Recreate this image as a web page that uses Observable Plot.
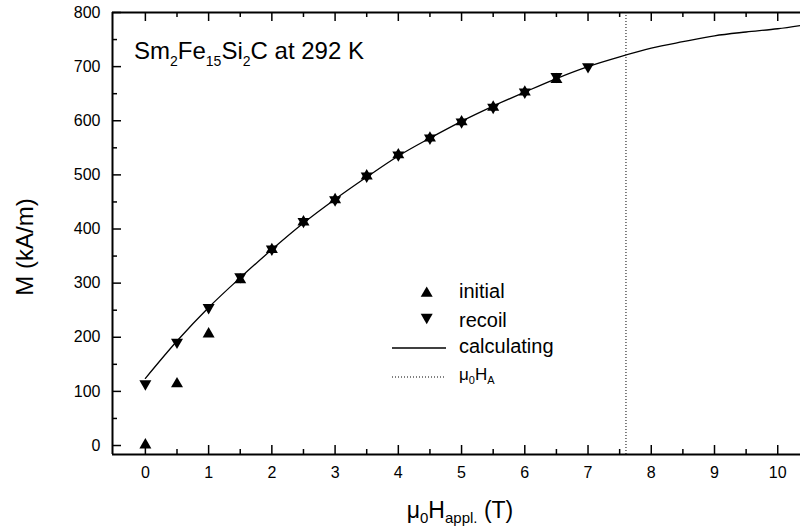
<!DOCTYPE html>
<html><head><meta charset="utf-8">
<script src="https://cdn.jsdelivr.net/npm/d3@7"></script>
<script src="https://cdn.jsdelivr.net/npm/@observablehq/plot@0.6"></script>
<style>body{margin:0;background:#fff}#chart{width:800px;height:532px}</style>
</head><body><div id="chart"></div>
<script>
// ---- data ----
const fieldInitial = [0, 0.5, 1, 1.5, 2, 2.5, 3, 3.5, 4, 4.5, 5, 5.5, 6, 6.5];
const mInitial     = [1, 114, 206, 306, 362, 413, 454, 498, 537, 568, 598, 625, 653, 676];
const fieldRecoil  = [0, 0.5, 1, 1.5, 2, 2.5, 3, 3.5, 4, 4.5, 5, 5.5, 6, 6.5, 7];
const mRecoil      = [114, 191, 255, 312, 363, 414, 454, 498, 537, 568, 598, 625, 653, 682, 700];
const fieldCalc    = [0, 0.5, 1, 1.5, 2, 2.5, 3, 3.5, 4, 4.5, 5, 5.5, 6, 6.5, 7, 7.5, 8, 8.5, 9, 9.5, 10, 10.36];
const mCalc        = [124, 193, 255, 310, 362, 411, 455, 496, 535, 568, 599, 627, 653, 678, 700, 718, 734, 746, 757, 764, 770, 776];
const anisotropyField = [7.6];
const xTicksMajor = [0, 1, 2, 3, 4, 5, 6, 7, 8, 9, 10];
const xTicksMinor = [0.5, 1.5, 2.5, 3.5, 4.5, 5.5, 6.5, 7.5, 8.5, 9.5];
const yTicksMajor = [0, 100, 200, 300, 400, 500, 600, 700, 800];
const yTicksMinor = [50, 150, 250, 350, 450, 550, 650, 750];
const xDomain = [-0.52, 10.36];
const yDomain = [-16.6, 800];

const initial = fieldInitial.map((f, i) => ({f, m: mInitial[i]}));
const recoil = fieldRecoil.map((f, i) => ({f, m: mRecoil[i]}));
const calc = fieldCalc.map((f, i) => ({f, m: mCalc[i]}));

// centroid-centred triangles (so coincident up/down markers form a hexagram)
const triUp = {draw(ctx, size) {const w = Math.sqrt(size / Math.PI), h = w * 1.73;
  ctx.moveTo(0, -2 * h / 3); ctx.lineTo(w, h / 3); ctx.lineTo(-w, h / 3); ctx.closePath();}};
const triDown = {draw(ctx, size) {const w = Math.sqrt(size / Math.PI), h = w * 1.73;
  ctx.moveTo(0, 2 * h / 3); ctx.lineTo(w, -h / 3); ctx.lineTo(-w, -h / 3); ctx.closePath();}};

const W = 800, H = 532, mL = 112, mR = 0, mT = 12, mB = 78;
const pw = W - mL - mR, ph = H - mT - mB;
const tMaj = 9, tMin = 5;

const svg = Plot.plot({
  width: W, height: H, marginLeft: mL, marginRight: mR, marginTop: mT, marginBottom: mB,
  style: {fontFamily: "'Liberation Sans', Arial, sans-serif", fontSize: "16px", color: "black", background: "white"},
  x: {domain: xDomain},
  y: {domain: yDomain},
  marks: [
    Plot.ruleX([xDomain[0]], {stroke: "black", strokeWidth: 2}),
    Plot.ruleY([yDomain[0]], {stroke: "black", strokeWidth: 2}),
    Plot.ruleY([yDomain[1]], {stroke: "black", strokeWidth: 2}),
    Plot.ruleX(xTicksMajor, {x: d => d, insetTop: ph - tMaj, stroke: "black", strokeWidth: 1.5}),
    Plot.ruleX(xTicksMinor, {x: d => d, insetTop: ph - tMin, stroke: "black", strokeWidth: 1.5}),
    Plot.ruleX(xTicksMajor, {x: d => d, insetBottom: ph - tMaj, stroke: "black", strokeWidth: 1.5}),
    Plot.ruleX(xTicksMinor, {x: d => d, insetBottom: ph - tMin, stroke: "black", strokeWidth: 1.5}),
    Plot.ruleY(yTicksMajor, {y: d => d, insetRight: pw - tMaj, stroke: "black", strokeWidth: 1.5}),
    Plot.ruleY(yTicksMinor, {y: d => d, insetRight: pw - tMin, stroke: "black", strokeWidth: 1.5}),
    Plot.axisX(xTicksMajor, {anchor: "bottom", tickSize: 0, tickPadding: 12, label: null, fontSize: 16}),
    Plot.axisY(yTicksMajor, {anchor: "left", tickSize: 0, tickPadding: 12, label: null, fontSize: 16}),
    Plot.ruleX(anisotropyField, {x: d => d, stroke: "black", strokeWidth: 1, strokeDasharray: "1,2"}),
    Plot.line(calc, {x: "f", y: "m", stroke: "black", strokeWidth: 1.3, curve: "monotone-x", clip: true}),
    Plot.dot(initial, {x: "f", y: "m", symbol: triUp, r: 6, fill: "black", stroke: "none"}),
    Plot.dot(recoil, {x: "f", y: "m", symbol: triDown, r: 6, fill: "black", stroke: "none"})
  ]
});

const s = d3.select(svg);
const font = "'Liberation Sans', Arial, sans-serif";

function richText(x, y, parts, size, subSize, subShift, anchor) {
  const t = s.append("text").attr("x", x).attr("y", y).attr("font-family", font)
    .attr("fill", "black").attr("text-anchor", anchor || "start");
  let down = false;
  parts.forEach(([txt, sub]) => {
    const sp = t.append("tspan").text(txt).attr("font-size", sub ? subSize : size);
    if (sub && !down) { sp.attr("dy", subShift); down = true; }
    else if (!sub && down) { sp.attr("dy", -subShift); down = false; }
  });
  return t;
}

// title
richText(134, 59, [["Sm"], ["2", 1], ["Fe"], ["15", 1], ["Si"], ["2", 1], ["C at 292 K"]], 24, 14, 7);

// x axis title
richText(460, 518, [["μ"], ["0", 1], ["H"], ["appl.", 1], [" (T)"]], 23, 15, 5, "middle");

// y axis title
s.append("text").attr("transform", "translate(33,247) rotate(-90)")
  .attr("text-anchor", "middle").attr("font-family", font).attr("font-size", 24)
  .attr("fill", "black").text("M (kA/m)");

// legend
const lx = 426.7, tx = 459;
s.append("path").attr("transform", `translate(${lx},293.4)`).attr("d", d3.symbol(triUp, 36 * Math.PI)()).attr("fill", "black");
s.append("path").attr("transform", `translate(${lx},317.3)`).attr("d", d3.symbol(triDown, 36 * Math.PI)()).attr("fill", "black");
s.append("line").attr("x1", 392).attr("x2", 446).attr("y1", 348).attr("y2", 348).attr("stroke", "black").attr("stroke-width", 1.3);
s.append("line").attr("x1", 392).attr("x2", 446).attr("y1", 377).attr("y2", 377).attr("stroke", "black").attr("stroke-width", 1).attr("stroke-dasharray", "1,2");
richText(tx, 298, [["initial"]], 20, 12, 4);
richText(tx, 327, [["recoil"]], 20, 12, 4);
richText(tx, 353, [["calculating"]], 20, 12, 4);
richText(tx, 380, [["μ"], ["0", 1], ["H"], ["A", 1]], 17, 11, 4);

document.getElementById("chart").appendChild(svg);
</script>
</body></html>
